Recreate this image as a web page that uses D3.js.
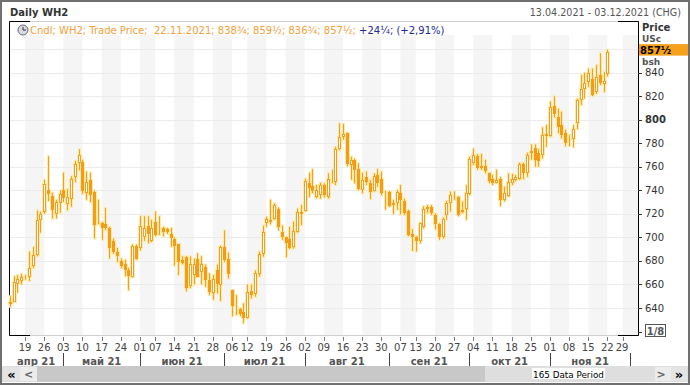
<!DOCTYPE html>
<html lang="ru">
  <head>
    <meta charset="utf-8">
    <title>Daily WH2</title>
    <style>
      body { margin: 0; background: #fff; }
      svg { display: block; font-family: "DejaVu Sans", Verdana, sans-serif; }
    </style>
  </head>
  <body>
    <svg width="690" height="386"></svg>
    <script src="https://d3js.org/d3.v7.min.js"></script>
    <script>
      // ---- data ----
      const startDate = "2021-04-13";
      const endDate = "2021-12-03";
      const holidays = ["2021-05-31", "2021-07-05", "2021-09-06", "2021-11-25"];
      const monthNames = ["янв", "фев", "мар", "апр", "май", "июн", "июл", "авг", "сен", "окт", "ноя", "дек"];
      const yTicks = [640, 660, 680, 700, 720, 740, 760, 780, 800, 820, 840, 860];

      const open = [645, 645, 661, 663, 666, 666, 676, 685, 715, 721, 740, 735, 720, 729, 740, 728, 733, 751, 763, 764,
        738, 749, 739, 715, 712, 711, 708, 697, 688, 680, 677, 672, 667, 693, 691, 700, 710, 697, 713, 706,
        708, 707, 703, 699, 694, 681, 683, 658, 668, 682, 670, 675, 664, 653, 672, 660, 692, 682, 655, 639,
        639.5, 637, 632, 654.5, 652.5, 669, 686, 712.5, 713, 716, 724, 705, 700, 699, 691.5, 705, 722, 722.5, 746.5, 743.5,
        734.5, 736, 744.5, 734.5, 750, 747.5, 775, 785.5, 788.5, 761.5, 766, 758.5, 740.5, 751, 746.5, 739.5, 753, 749.5, 739, 739,
        727, 729.5, 737.5, 731, 722.5, 702.5, 700.5, 696.5, 709, 725.5, 725.5, 719, 711.5, 700.5, 719, 729.5, 734.5, 734, 723.5, 724,
        737.5, 763, 769, 758.5, 760.5, 754.5, 749.5, 746.5, 750, 732, 736, 746.5, 749, 750, 762.5, 755, 771.5, 776, 772, 770,
        786, 786, 811.5, 802.5, 795.5, 788.5, 782.5, 783.5, 797, 816.5, 826, 831.5, 835, 823, 838, 830.5, 838.75];
      const high = [650, 667, 668, 669, 668, 688, 692, 723, 722, 749, 769, 738, 732, 740, 755, 741, 752, 765, 775, 766,
        756, 755, 740, 732, 713, 725, 709, 699, 691, 682, 681, 674, 694, 694, 718, 718, 718, 715, 722, 718,
        709, 708, 708, 700, 694.5, 684, 684, 684, 682, 686.5, 684, 677, 669.5, 668, 677, 693, 706, 687, 655.5, 651,
        640, 644, 660, 660, 672, 688, 710, 717.5, 732, 729, 725.5, 710, 700.5, 709, 713.5, 724.5, 727.5, 750, 755, 758,
        744.5, 746.5, 746, 754.5, 757.5, 777, 797, 796.5, 789, 768.5, 767, 763, 755, 756, 749, 754.5, 758, 756, 739.5, 739.5,
        732, 740.5, 744.5, 733, 723.5, 707, 701, 712.5, 726.5, 727.5, 727.5, 720.5, 712, 717, 731, 739, 739, 735, 730.5, 744.5,
        768.5, 775.5, 771, 771, 766, 755, 753, 757.5, 751.5, 743, 754.5, 754, 753, 763.5, 763.5, 772, 779, 779, 775, 793.5,
        795.5, 815.5, 820, 809.5, 807, 791.5, 787, 795.5, 818, 838, 840, 843.5, 843.5, 846.5, 856.5, 840.5, 859.5];
      const low = [641, 645, 653, 660, 664, 663, 674, 684, 704, 720, 731, 716, 716, 721, 730, 723, 726, 747, 757, 737,
        732, 730, 699, 711, 698, 706, 682, 686, 679, 674, 667, 655, 666, 681, 689, 697, 695, 696, 701, 702,
        701, 703, 692, 676, 668, 677, 654, 657, 660, 666.5, 660, 658, 651, 647, 652.5, 646, 679, 665, 633, 634,
        633, 627, 631, 648, 649.5, 666.5, 683.5, 709, 711, 715, 706, 698, 683, 690, 690.5, 704, 710.5, 722, 734.5, 737.5,
        733, 733, 734, 733, 746, 744.5, 774, 783, 760.5, 749, 746, 740, 737.5, 744.5, 732.5, 739, 743, 736, 723.5, 726,
        720, 723.5, 719.5, 719, 701, 688.5, 688, 695, 707.5, 720.5, 719, 707, 698, 699, 715, 722, 732, 718, 720.5, 715,
        736, 761.5, 757.5, 757.5, 754.5, 746, 744.5, 746, 726.5, 730.5, 734.5, 744.5, 747.5, 749, 749.5, 751.5, 766, 760, 760, 767,
        777, 785.5, 802, 788.5, 784, 777.5, 777.5, 776.5, 792, 812.5, 818, 828, 820, 822, 829.5, 823.5, 836.75];
      const close = [643, 662, 665, 666, 666.25, 674, 685, 715, 720, 745, 737, 723, 730, 737, 733, 734, 750, 762, 770, 739,
        747, 736, 711, 714, 708, 708, 691, 688, 685, 676, 672, 667, 693, 682, 710, 708, 703, 708, 702, 707,
        705, 704.5, 700, 693, 678.5, 678.5, 657, 677, 677, 667, 677, 664, 654, 665, 660, 692, 681, 669.5, 641, 639.25,
        635, 632, 654, 651, 670, 686, 705, 715.5, 715, 727.5, 708.5, 701, 695, 691.5, 705.5, 722, 720, 748, 742.5, 739,
        740.5, 744.5, 736, 750, 748.75, 775.5, 785, 788, 762.5, 766, 757.5, 741.5, 749, 746.5, 739, 752, 746, 737.5, 738, 727.5,
        729, 739, 731.5, 721, 702, 700, 697, 712, 724.5, 723.5, 720.5, 711.5, 700.5, 716, 729.5, 736, 734.75, 719, 722, 738,
        767, 770, 758.5, 760.5, 756, 747.5, 746.5, 749, 732, 738, 747.5, 749.5, 751.5, 762.5, 754.5, 770, 773.5, 766, 765, 787,
        787.5, 810.5, 805, 794, 787, 780, 782.75, 792, 816.5, 826, 831, 839.5, 821, 836, 831.5, 833.25, 857.5];

      // ---- trading days ----
      const parse = d3.utcParse("%Y-%m-%d");
      const key = d3.utcFormat("%Y-%m-%d");
      const days = d3.utcDay.range(parse(startDate), d3.utcDay.offset(parse(endDate), 1))
        .filter(d => d.getUTCDay() > 0 && d.getUTCDay() < 6 && holidays.indexOf(key(d)) < 0);

      const svg = d3.select("svg");
      const orange = "#f0a028";
      const pL = 9, pR = 638, pT = 21.5, pB = 335.5;

      const x = d3.scalePoint().domain(days.map(key)).range([9.7, 638]);
      const y = d3.scaleLinear().domain([640, 840]).range([308, 72.7]);
      const px = d => Math.round(x(key(d))) + 0.5;

      // weeks and months
      const weekStarts = days.filter((d, i) => i > 0 && +d3.utcMonday.floor(d) !== +d3.utcMonday.floor(days[i - 1]));
      const monthStarts = days.filter((d, i) => i > 0 && d.getUTCMonth() !== days[i - 1].getUTCMonth());

      // frame + header
      svg.append("rect").attr("width", 690).attr("height", 386).attr("fill", "#fff");
      svg.append("text").attr("x", 10).attr("y", 16).attr("font-size", 10).attr("font-weight", "bold")
        .attr("fill", "#333").text("Daily WH2");
      const fmtD = d3.utcFormat("%d.%m.%Y");
      svg.append("text").attr("x", 681).attr("y", 16).attr("font-size", 9.6).attr("text-anchor", "end")
        .attr("fill", "#555").text(fmtD(days[0]) + " - " + fmtD(days[days.length - 1]) + " (CHG)");

      // weekly shading bands
      const bandEdges = [pL].concat(weekStarts.map(d => x(key(d)))).concat([pR]);
      svg.append("g").selectAll("rect")
        .data(d3.range(bandEdges.length - 1).filter(k => k % 2 === 1))
        .join("rect")
          .attr("x", k => bandEdges[k])
          .attr("width", k => bandEdges[k + 1] - bandEdges[k])
          .attr("y", 35)
          .attr("height", pB - 35)
          .attr("fill", "#f5f5f5");

      // gridlines
      svg.append("g").selectAll("line")
        .data(yTicks)
        .join("line")
          .attr("x1", pL).attr("x2", pR)
          .attr("y1", d => Math.round(y(d)) + 0.5).attr("y2", d => Math.round(y(d)) + 0.5)
          .attr("stroke", "#ebebeb");

      // plot border with black corners
      svg.append("rect").attr("x", pL + 0.5).attr("y", pT).attr("width", pR - pL).attr("height", pB - pT)
        .attr("fill", "none").attr("stroke", "#d0d0d0");
      const border = svg.append("g").attr("stroke", "#000").attr("fill", "none");
      border.append("path").attr("d", `M${pL + 0.5},${pB}V${pT}H${pL + 21}`);
      border.append("path").attr("d", `M${pL + 0.5},${pB}H${pL + 21}`);
      border.append("path").attr("d", `M${pR + 0.5},${pT}V${pB}H${pR - 20}`);
      border.append("path").attr("d", `M${pR + 0.5},${pT}H${pR - 20}`);

      // candles
      const defs = svg.append("defs");
      const f = defs.append("filter").attr("id", "glow").attr("x", "-50%").attr("y", "-20%")
        .attr("width", "200%").attr("height", "140%");
      f.append("feMorphology").attr("in", "SourceAlpha").attr("operator", "dilate").attr("radius", 1).attr("result", "d");
      f.append("feGaussianBlur").attr("in", "d").attr("stdDeviation", 0.7).attr("result", "b");
      f.append("feFlood").attr("flood-color", "#ffe9a6");
      f.append("feComposite").attr("in2", "b").attr("operator", "in").attr("result", "g");
      const m = f.append("feMerge");
      m.append("feMergeNode").attr("in", "g");
      m.append("feMergeNode").attr("in", "SourceGraphic");

      const candles = d3.range(close.length).map(i => ({
        d: days[i], o: open[i], h: high[i], l: low[i], c: close[i]
      }));
      const cg = svg.append("g").attr("filter", "url(#glow)");
      const c = cg.selectAll("g").data(candles).join("g");
      c.append("line")
        .attr("x1", d => px(d.d)).attr("x2", d => px(d.d))
        .attr("y1", d => y(d.h)).attr("y2", d => y(d.l))
        .attr("stroke", orange);
      c.append("rect")
        .attr("x", d => px(d.d) - 1)
        .attr("width", 2)
        .attr("y", d => Math.round(y(Math.max(d.o, d.c))) + 0.5)
        .attr("height", d => Math.max(0, Math.round(Math.abs(y(d.o) - y(d.c))) - 1))
        .attr("fill", d => d.c >= d.o ? "#fff" : "#f49c14")
        .attr("stroke", d => d.c >= d.o ? orange : "#f49c14");

      // legend
      const frac = v => {
        const w = Math.floor(v), r = v - w;
        return w + (r === 0.25 ? "¼" : r === 0.5 ? "½" : r === 0.75 ? "¾" : "");
      };
      const last = candles[candles.length - 1];
      const chg = last.c - close[close.length - 2];
      const lg = svg.append("g");
      lg.append("circle").attr("cx", 23).attr("cy", 30).attr("r", 5).attr("fill", "#d8d8e0").attr("stroke", "#6a6a78");
      lg.append("path").attr("d", "M23,27V30H26").attr("stroke", "#333").attr("fill", "none");
      const lt = lg.append("text").attr("x", 30).attr("y", 34).attr("font-size", 10).attr("xml:space", "preserve");
      lt.append("tspan").attr("fill", "#f0a035")
        .text(`Cndl; WH2; Trade Price;  ${fmtD(last.d)}; ${frac(last.o)}; ${frac(last.h)}; ${frac(last.l)}; ${frac(last.c)}; `);
      lt.append("tspan").attr("fill", "#1d2795")
        .text(`+${frac(chg)}; (+${d3.format(".2f")(chg / close[close.length - 2] * 100).replace(".", ",")}%)`);

      // right axis
      const ra = svg.append("g").attr("font-size", 10).attr("fill", "#333");
      ra.selectAll("line").data(yTicks.concat([620])).join("line")
        .attr("x1", pR).attr("x2", pR + 4)
        .attr("y1", d => Math.round(y(d)) + 0.5).attr("y2", d => Math.round(y(d)) + 0.5)
        .attr("stroke", "#333");
      ra.selectAll("text").data(yTicks.filter(v => v < 860)).join("text")
        .attr("x", pR + 7).attr("y", d => y(d) + 3.5)
        .attr("font-weight", d => d === 800 ? "bold" : null)
        .text(d => d);
      ra.append("text").attr("x", pR + 4).attr("y", 31).attr("font-weight", "bold").text("Price");
      ra.append("text").attr("x", pR + 4).attr("y", 42).attr("font-size", 9).attr("font-weight", "bold")
        .attr("fill", "#555").text("USc");
      ra.append("text").attr("x", pR + 4).attr("y", 65).attr("font-size", 9).attr("font-weight", "bold")
        .attr("fill", "#555").text("bsh");
      const by = y(last.c);
      ra.append("rect").attr("x", pR + 1).attr("y", by - 8).attr("width", 49).attr("height", 11.5).attr("fill", "#f7a01c");
      ra.append("text").attr("x", pR + 2).attr("y", by + 1.8).attr("font-weight", "bold")
        .attr("font-size", 10).attr("fill", "#000").text(frac(last.c));
      ra.append("rect").attr("x", 645.5).attr("y", 324.5).attr("width", 20).attr("height", 12)
        .attr("fill", "#fff").attr("stroke", "#555");
      ra.append("text").attr("x", 655.5).attr("y", 334.5).attr("text-anchor", "middle").attr("font-weight", "bold")
        .attr("fill", "#555").text("1/8");

      // bottom axis
      const xa = svg.append("g").attr("font-size", 10);
      xa.selectAll("line").data(weekStarts).join("line")
        .attr("x1", px).attr("x2", px).attr("y1", 337).attr("y2", 341).attr("stroke", "#777");
      xa.selectAll("text").data(weekStarts).join("text")
        .attr("x", d => Math.min(x(key(d)), 622)).attr("y", 350.5)
        .attr("text-anchor", "middle").attr("fill", "#444")
        .text(d3.utcFormat("%d"));
      const mEdges = [pL].concat(monthStarts.map(d => x(key(d)))).concat([pR]);
      const mg = svg.append("g");
      mg.selectAll("line").data(monthStarts).join("line")
        .attr("x1", px).attr("x2", px).attr("y1", 353).attr("y2", 366).attr("stroke", "#444");
      const mDays = [days[0]].concat(monthStarts);
      mg.selectAll("text").data(d3.range(mDays.length).filter(k => mEdges[k + 1] - mEdges[k] > 40)).join("text")
        .attr("x", k => (mEdges[k] + mEdges[k + 1]) / 2)
        .attr("y", 364.5)
        .attr("text-anchor", "middle").attr("font-size", 10).attr("font-weight", "bold").attr("fill", "#555")
        .text(k => monthNames[mDays[k].getUTCMonth()] + " " + d3.utcFormat("%y")(mDays[k]));

      // scrollbar
      const sb = svg.append("g");
      sb.append("rect").attr("x", 2).attr("y", 366).attr("width", 686).attr("height", 16).attr("fill", "#dedede");
      sb.append("rect").attr("x", 37).attr("y", 366).attr("width", 448).attr("height", 16).attr("fill", "#c8c8c8");
      sb.append("rect").attr("x", 3).attr("y", 367).attr("width", 17).attr("height", 14).attr("fill", "#e4e4e4");
      sb.append("rect").attr("x", 20).attr("y", 367).attr("width", 17).attr("height", 14).attr("fill", "#ececec");
      sb.append("rect").attr("x", 655).attr("y", 367).attr("width", 16).attr("height", 14).attr("fill", "#ececec");
      sb.append("rect").attr("x", 671).attr("y", 367).attr("width", 16).attr("height", 14).attr("fill", "#e4e4e4");
      sb.append("text").attr("x", 11.5).attr("y", 378.5).attr("text-anchor", "middle").attr("font-size", 13)
        .attr("font-weight", "bold").attr("fill", "#000").text("«");
      sb.append("text").attr("x", 28.5).attr("y", 378).attr("text-anchor", "middle").attr("font-size", 11)
        .attr("font-weight", "bold").attr("fill", "#666").text("<");
      sb.append("text").attr("x", 661).attr("y", 378).attr("text-anchor", "middle").attr("font-size", 11)
        .attr("font-weight", "bold").attr("fill", "#666").text(">");
      sb.append("text").attr("x", 679).attr("y", 378.5).attr("text-anchor", "middle").attr("font-size", 13)
        .attr("font-weight", "bold").attr("fill", "#000").text("»");
      sb.append("rect").attr("x", 532).attr("y", 368).attr("width", 73).attr("height", 11).attr("fill", "#fff");
      sb.append("text").attr("x", 568.5).attr("y", 377.5).attr("text-anchor", "middle").attr("font-size", 8.8)
        .attr("fill", "#000").text(days.length + " Data Period");

      // outer frame
      svg.append("rect").attr("x", 1).attr("y", 1).attr("width", 688).attr("height", 383)
        .attr("fill", "none").attr("stroke", "#707070").attr("stroke-width", 2);
    </script>
  </body>
</html>
